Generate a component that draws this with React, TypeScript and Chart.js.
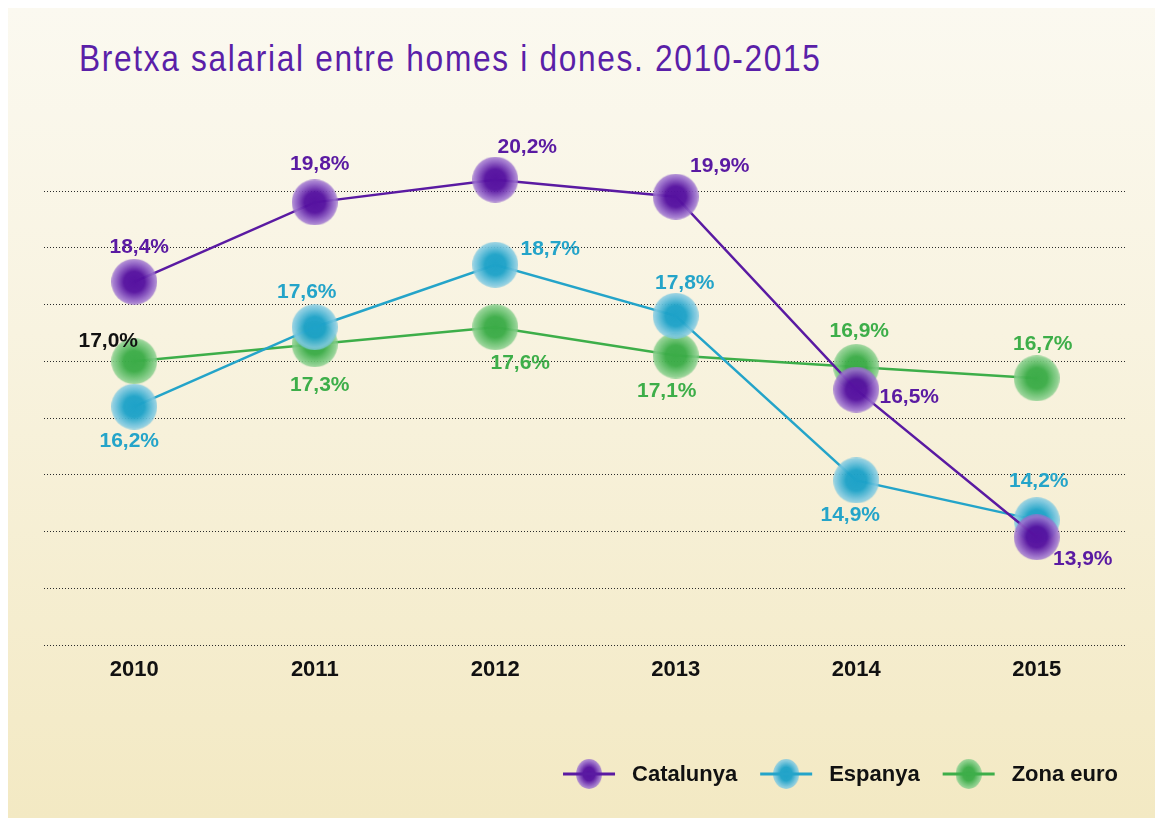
import { useEffect, useRef } from "react";
import { Chart, registerables } from "chart.js";

Chart.register(...registerables);

// ---- data ----
const years = ["2010", "2011", "2012", "2013", "2014", "2015"];
const catalunya = [18.4, 19.8, 20.2, 19.9, 16.5, 13.9];
const espanya = [16.2, 17.6, 18.7, 17.8, 14.9, 14.2];
const zonaEuro = [17.0, 17.3, 17.6, 17.1, 16.9, 16.7];
const seriesNames = ["Catalunya", "Espanya", "Zona euro"];
const yMin = 12;
const yMax = 20;
const yStep = 1;
const titleText = "Bretxa salarial entre homes i dones. 2010-2015";

// ---- style ----
const FONT = "'Liberation Sans', Arial, Helvetica, sans-serif";
const LINE_COLORS = ["#5a1aa2", "#24a4c9", "#3dae49"];
const BALL_CORE = [
  [86, 18, 160],
  [30, 162, 200],
  [60, 172, 72],
];
const BALL_EDGE = [
  [155, 112, 205],
  [125, 200, 224],
  [130, 204, 135],
];
// label offsets (dx, dy) from each point, per series
const LABEL_OFFSETS = [
  [[5, -35], [5, -38], [32, -32], [44, -30], [53, 8], [46, 22]],
  [[-5, 35], [-8, -35], [55, -16], [9, -33], [-6, 35], [2, -39]],
  [[-26, -20], [5, 41], [25, 36], [-9, 36], [3, -36], [6, -34]],
];
const LABEL_COLOR_OVERRIDE: Record<string, string> = { "2-0": "#111111" };

function makeBall(core: number[], edge: number[], r: number) {
  const c = document.createElement("canvas");
  c.width = r * 2;
  c.height = r * 2;
  const ctx = c.getContext("2d")!;
  const g = ctx.createRadialGradient(r, r, 0, r, r, r);
  const [a, b, d] = core;
  const [e, f, h] = edge;
  g.addColorStop(0, `rgba(${a},${b},${d},1)`);
  g.addColorStop(0.45, `rgba(${a},${b},${d},0.97)`);
  g.addColorStop(0.88, `rgba(${e},${f},${h},0.92)`);
  g.addColorStop(1, `rgba(${e},${f},${h},0.7)`);
  ctx.fillStyle = g;
  ctx.beginPath();
  ctx.arc(r, r, r, 0, Math.PI * 2);
  ctx.fill();
  return c;
}

const fmt = (v: number) => v.toFixed(1).replace(".", ",") + "%";

export default function App() {
  const ref = useRef<HTMLCanvasElement | null>(null);

  useEffect(() => {
    if (!ref.current) return;
    const balls = BALL_CORE.map((c, i) => makeBall(c, BALL_EDGE[i], 23));
    const legendBalls = BALL_CORE.map((c, i) => makeBall(c, BALL_EDGE[i], 15));
    const seriesData = [catalunya, espanya, zonaEuro];

    const labelPlugin = {
      id: "valueLabels",
      afterDatasetsDraw(chart: any) {
        const ctx = chart.ctx;
        ctx.save();
        ctx.font = `bold 21px ${FONT}`;
        ctx.textAlign = "center";
        ctx.textBaseline = "middle";
        chart.data.datasets.forEach((ds: any, di: number) => {
          const meta = chart.getDatasetMeta(di);
          meta.data.forEach((pt: any, i: number) => {
            const [dx, dy] = LABEL_OFFSETS[di][i];
            ctx.fillStyle = LABEL_COLOR_OVERRIDE[`${di}-${i}`] || LINE_COLORS[di];
            ctx.fillText(fmt(ds.data[i]), pt.x + dx, pt.y + dy);
          });
        });
        ctx.restore();
      },
    };

    const legendPlugin = {
      id: "customLegend",
      afterDraw(chart: any) {
        const ctx = chart.ctx;
        ctx.save();
        ctx.font = `bold 22px ${FONT}`;
        const lineW = 52;
        const gapText = 17;
        const gapItem = 23;
        const widths = seriesNames.map((n) => ctx.measureText(n).width);
        const total =
          widths.reduce((s, w) => s + lineW + gapText + w, 0) + gapItem * (seriesNames.length - 1);
        let x = 1110 - total;
        const yLine = 766;
        seriesNames.forEach((name, i) => {
          const cx = x + lineW / 2;
          ctx.drawImage(legendBalls[i], cx - 13, yLine - 15, 26, 30);
          ctx.strokeStyle = LINE_COLORS[i];
          ctx.lineWidth = 3;
          ctx.beginPath();
          ctx.moveTo(x, yLine);
          ctx.lineTo(x + lineW, yLine);
          ctx.stroke();
          ctx.fillStyle = "#111111";
          ctx.textAlign = "left";
          ctx.textBaseline = "alphabetic";
          ctx.fillText(name, x + lineW + gapText, yLine + 7);
          x += lineW + gapText + widths[i] + gapItem;
        });
        ctx.restore();
      },
    };

    const chart = new Chart(ref.current, {
      type: "line",
      data: {
        labels: years,
        datasets: seriesData.map((d, i) => ({
          label: seriesNames[i],
          data: d,
          borderColor: LINE_COLORS[i],
          borderWidth: 2.5,
          tension: 0,
          pointStyle: balls[i] as any,
          pointRadius: 23,
          pointHoverRadius: 23,
          clip: false as any,
        })),
      },
      options: {
        responsive: false,
        animation: false,
        events: [],
        layout: { padding: { left: 36, right: 36, top: 183, bottom: 0 } },
        plugins: {
          legend: { display: false },
          tooltip: { enabled: false },
          title: { display: false },
        },
        scales: {
          x: {
            offset: true,
            grid: { display: false, drawTicks: false },
            border: { display: false },
            ticks: {
              color: "#111111",
              padding: 12,
              font: { family: FONT, size: 22, weight: "bold" },
            },
            afterFit: (s: any) => {
              s.height = 173;
            },
          },
          y: {
            min: yMin,
            max: yMax,
            ticks: { stepSize: yStep, display: false },
            grid: { color: "#2a2a2a", lineWidth: 1, drawTicks: false },
            border: { display: false, dash: [1, 2] },
            afterFit: (s: any) => {
              s.width = 0;
            },
          },
        },
      },
      plugins: [labelPlugin, legendPlugin],
    });
    return () => chart.destroy();
  }, []);

  return (
    <div
      style={{
        position: "relative",
        width: 1155,
        height: 810,
        background: "linear-gradient(to bottom, #fbf9f0 0%, #f8f3e0 40%, #f3e9c3 100%)",
        overflow: "hidden",
      }}
    >
      <div
        style={{
          position: "absolute",
          left: 71,
          top: 33,
          fontFamily: FONT,
          fontSize: 36,
          lineHeight: "36px",
          letterSpacing: "1.9px",
          color: "#5a1fa8",
          whiteSpace: "nowrap",
          transform: "scaleX(0.88)",
          transformOrigin: "left top",
        }}
      >
        {titleText}
      </div>
      <canvas ref={ref} width={1155} height={810} style={{ position: "absolute", left: 0, top: 0 }} />
    </div>
  );
}
